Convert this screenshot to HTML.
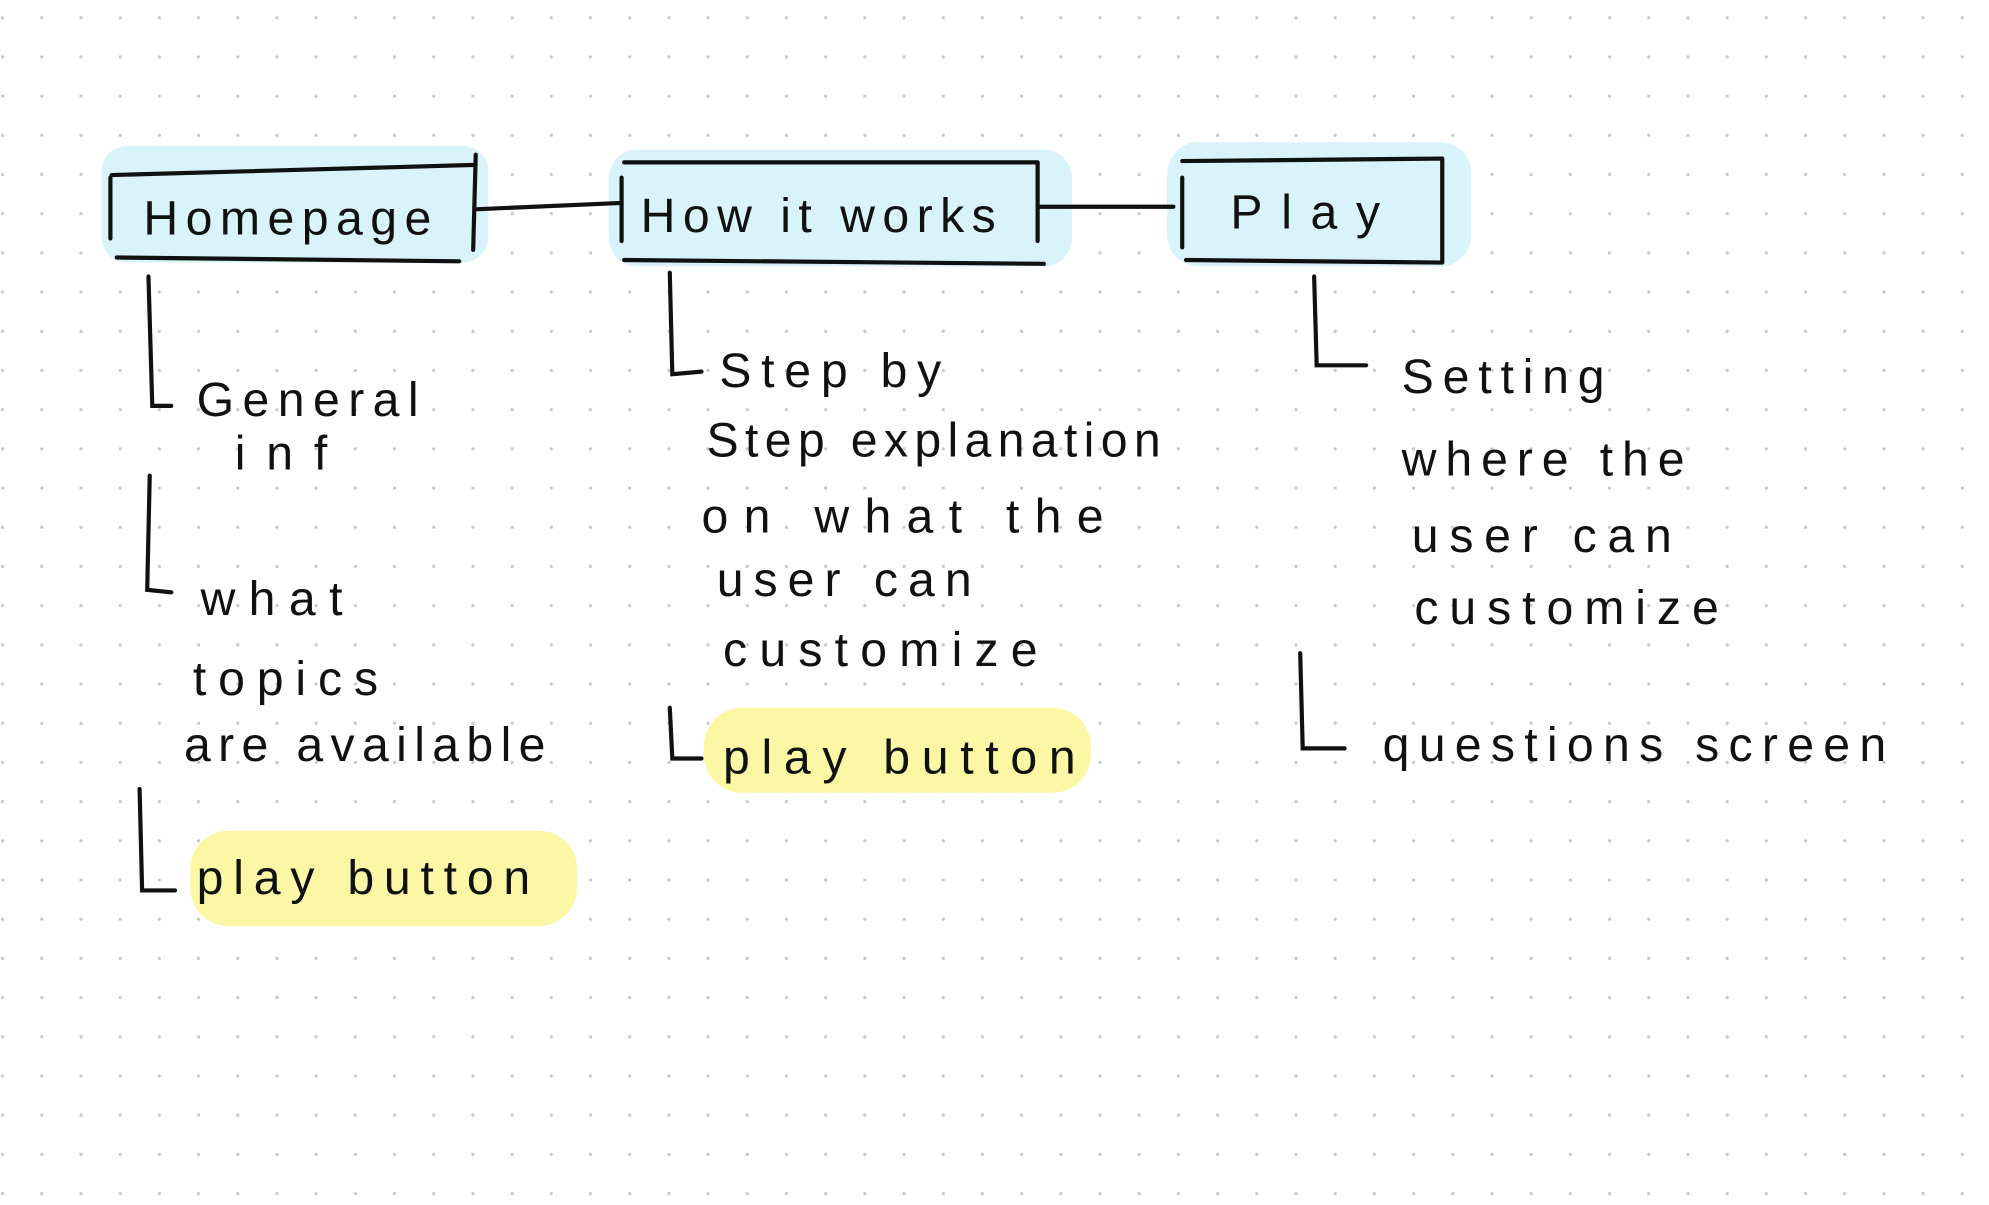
<!DOCTYPE html>
<html><head><meta charset="utf-8"><style>
html,body{margin:0;padding:0;background:#fff;}
svg{display:block;}
text{font-family:"Liberation Sans",sans-serif;fill:#111;font-size:38px;}
</style></head><body>
<svg width="1989" height="1205" viewBox="0 0 1568 950" xmlns="http://www.w3.org/2000/svg">
<defs>
<pattern id="dots" x="0" y="0" width="30.9" height="30.9" patternUnits="userSpaceOnUse">
<circle cx="2" cy="14" r="1.3" fill="#c9c9c9"/>
</pattern>
</defs>
<rect width="1568" height="950" fill="#fff"/>
<rect width="1568" height="950" fill="url(#dots)"/>

<rect x="80" y="115" width="305" height="92" rx="20" fill="#d9f3fb"/>
<rect x="480" y="118" width="365" height="92" rx="22" fill="#d9f3fb"/>
<rect x="920" y="112" width="240" height="98" rx="25" fill="#d9f3fb"/>
<rect x="150" y="655" width="305" height="75" rx="30" fill="#fbf7a4"/>
<rect x="555" y="558" width="305" height="67" rx="30" fill="#fbf7a4"/>

<g fill="none" stroke="#111" stroke-width="3.3" stroke-linecap="round">
<path d="M87 140 L87 188 M88 138 L375 130 M375 122 L373 197 M92 203 L362 206"/>
<path d="M375 165 L490 160"/>
<path d="M492 128 L818 128 M490 140 L490 190 M818 128 L818 190 M492 205 L823 208"/>
<path d="M818 163 L925 163"/>
<path d="M932 127 L1137 125 M932 140 L932 195 M1137 125 L1137 207 M935 205 L1137 207"/>
<path d="M117 218 L120 320 L135 320"/>
<path d="M118 375 L116 465 L135 467"/>
<path d="M110 622 L112 702 L138 702"/>
<path d="M528 215 L530 295 L553 293"/>
<path d="M528 558 L530 598 L553 598"/>
<path d="M1036 218 L1038 288 L1077 288"/>
<path d="M1025 515 L1027 590 L1060 590"/>
</g>

<g lengthAdjust="spacing">
<text x="113" y="185" font-size="40" textLength="227" lengthAdjust="spacing">Homepage</text>
<text x="505" y="183" font-size="40" textLength="280" lengthAdjust="spacing">How it works</text>
<text x="970" y="180" font-size="46" textLength="118" lengthAdjust="spacing">Play</text>

<text x="155" y="328" textLength="175" lengthAdjust="spacing">General</text>
<text x="185" y="370" textLength="73" lengthAdjust="spacing">inf</text>
<text x="158" y="485" textLength="112" lengthAdjust="spacing">what</text>
<text x="152" y="548" textLength="146" lengthAdjust="spacing">topics</text>
<text x="145" y="600" textLength="285" lengthAdjust="spacing">are available</text>
<text x="155" y="705" textLength="263" lengthAdjust="spacing">play button</text>

<text x="567" y="305" textLength="175" lengthAdjust="spacing">Step by</text>
<text x="557" y="360" textLength="358" lengthAdjust="spacing">Step explanation</text>
<text x="553" y="420" textLength="317" lengthAdjust="spacing">on what the</text>
<text x="565" y="470" textLength="201" lengthAdjust="spacing">user can</text>
<text x="570" y="525" textLength="248" lengthAdjust="spacing">customize</text>
<text x="570" y="610" textLength="278" lengthAdjust="spacing">play button</text>

<text x="1105" y="310" textLength="160" lengthAdjust="spacing">Setting</text>
<text x="1105" y="375" textLength="223" lengthAdjust="spacing">where the</text>
<text x="1113" y="435" textLength="205" lengthAdjust="spacing">user can</text>
<text x="1115" y="492" textLength="240" lengthAdjust="spacing">customize</text>
<text x="1090" y="600" textLength="397" lengthAdjust="spacing">questions screen</text>
</g>
</svg>
</body></html>
